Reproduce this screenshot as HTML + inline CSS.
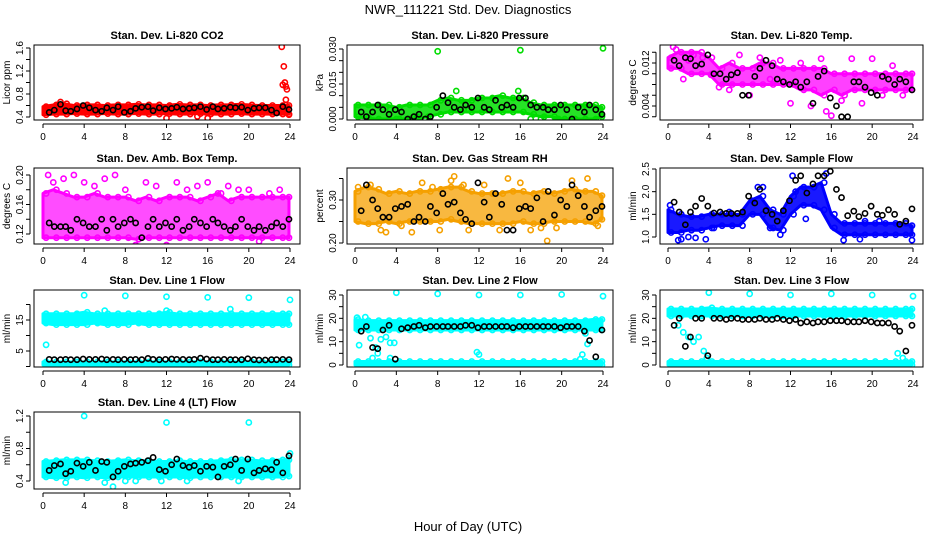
<!DOCTYPE html>
<html><head><meta charset="utf-8"><style>
body{margin:0;background:#fff;width:936px;height:540px;overflow:hidden}
svg{display:block;font-family:"Liberation Sans",sans-serif}
</style></head><body>
<svg id="chart" width="936" height="540">
<text x="468" y="14" text-anchor="middle" font-size="13">NWR_111221  Std. Dev. Diagnostics</text>
<text x="468" y="531" text-anchor="middle" font-size="13">Hour of Day (UTC)</text>
</svg>
<script>
// ---- data ----
const xTicks = [0,4,8,12,16,20,24];
const bandHours = [0,1,2,3,4,5,6,7,8,9,10,11,12,13,14,15,16,17,18,19,20,21,22,23,24];
const blackX = [0.6,1.1,1.7,2.2,2.7,3.3,3.9,4.5,5.1,5.7,6.2,6.8,7.3,7.9,8.5,9.0,9.6,10.2,10.7,11.3,11.9,12.5,13.0,13.6,14.2,14.7,15.3,15.9,16.5,17.0,17.6,18.2,18.7,19.3,19.9,20.5,21.0,21.6,22.2,22.7,23.3,23.9];

const co2Lo = [0.44,0.45,0.45,0.46,0.45,0.45,0.46,0.45,0.45,0.46,0.45,0.45,0.46,0.45,0.45,0.46,0.45,0.45,0.45,0.46,0.45,0.45,0.45,0.45,0.45];
const co2Hi = [0.58,0.61,0.63,0.60,0.61,0.61,0.60,0.61,0.61,0.62,0.61,0.61,0.60,0.62,0.61,0.61,0.60,0.61,0.61,0.62,0.61,0.60,0.60,0.60,0.60];
const co2OutX = [1.7,12,15,16,23.2,23.4,23.5,23.3,23.6,23.7,23.6,23.9];
const co2OutY = [0.66,0.38,0.41,0.38,1.62,1.28,1.0,0.96,0.93,0.88,0.70,0.44];
const co2Black = [0.48,0.52,0.62,0.51,0.50,0.54,0.60,0.56,0.52,0.50,0.56,0.52,0.58,0.48,0.50,0.55,0.57,0.58,0.51,0.56,0.54,0.55,0.57,0.54,0.55,0.56,0.58,0.53,0.58,0.54,0.55,0.57,0.56,0.57,0.52,0.55,0.56,0.56,0.52,0.47,0.58,0.53];

const presLo = [0.001,0.0005,0,0,0,0,0,0.001,0.002,0.003,0.003,0.003,0.003,0.003,0.003,0.003,0.003,0.002,0.001,0.001,0,0,0,0,0.001];
const presHi = [0.006,0.006,0.006,0.006,0.005,0.006,0.006,0.006,0.008,0.009,0.008,0.008,0.009,0.009,0.010,0.009,0.009,0.007,0.006,0.006,0.006,0.006,0.006,0.006,0.005];
const presOutX = [8,16,24,9.8,15.8,4,6,3.4,7.1,11,13,17,18,19.7];
const presOutY = [0.029,0.0295,0.0303,0.012,0.012,0,0.001,0.004,0.001,0.004,0.004,0,0,0];
const presBlack = [0.003,0.001,0.003,0.006,0.004,0.002,0.004,0.003,0,0.001,0.002,0,0.001,0.005,0.010,0.007,0.005,0.004,0.006,0.005,0.009,0.005,0.004,0.008,0.005,0.006,0.005,0.009,0.009,0.006,0.005,0.005,0.004,0.004,0.006,0.004,0,0.005,0.003,0.006,0.004,0.002];

const tempLo = [0.011,0.011,0.010,0.010,0.010,0.008,0.008,0.008,0.008,0.008,0.008,0.008,0.008,0.007,0.007,0.006,0.007,0.006,0.007,0.007,0.007,0.007,0.007,0.007,0.007];
const tempHi = [0.013,0.014,0.014,0.014,0.013,0.011,0.012,0.011,0.011,0.012,0.012,0.011,0.011,0.011,0.011,0.011,0.010,0.010,0.010,0.010,0.010,0.010,0.010,0.010,0.010];
const tempOutX = [0.5,0.8,1.5,2,2.5,3.4,4.2,5,6,7,8,9,10,11,12,13,14,15,15.5,16,17,18,19,20,21,22,23];
const tempOutY = [0.015,0.0145,0.009,0.0125,0.0135,0.013,0.0098,0.0075,0.007,0.0135,0.006,0.013,0.009,0.0125,0.0045,0.012,0.004,0.0128,0.003,0.0022,0.005,0.0128,0.0045,0.0128,0.006,0.0115,0.006];
const tempBlack = [0.0125,0.0115,0.013,0.0128,0.0115,0.0118,0.0135,0.0100,0.0100,0.0090,0.0098,0.0102,0.0060,0.0060,0.0095,0.0110,0.0125,0.0115,0.0090,0.0085,0.0080,0.0085,0.0075,0.0085,0.0045,0.0095,0.0105,0.0055,0.0040,0.0020,0.0020,0.0085,0.0085,0.0075,0.0065,0.0060,0.0095,0.0090,0.0080,0.0090,0.0085,0.0070];

const ambLo = [0.115,0.115,0.115,0.115,0.115,0.115,0.115,0.115,0.115,0.113,0.115,0.115,0.115,0.115,0.115,0.115,0.115,0.115,0.115,0.115,0.115,0.115,0.115,0.115,0.115];
const ambHi = [0.175,0.18,0.175,0.17,0.17,0.175,0.17,0.17,0.17,0.165,0.17,0.165,0.17,0.17,0.17,0.165,0.17,0.175,0.165,0.17,0.17,0.17,0.17,0.17,0.17];
const ambOutX = [0.5,1,2,3,4,5,6,7,8,9,10,11,12,13,14,15,16,17,18,19,20,21,22,23];
const ambOutY = [0.2,0.19,0.195,0.2,0.19,0.185,0.195,0.2,0.18,0.105,0.19,0.185,0.105,0.19,0.18,0.185,0.19,0.175,0.185,0.18,0.18,0.11,0.175,0.18];
const ambBlack = [0.135,0.13,0.13,0.13,0.125,0.14,0.135,0.13,0.13,0.14,0.125,0.14,0.13,0.135,0.14,0.135,0.115,0.13,0.14,0.13,0.135,0.13,0.14,0.125,0.13,0.14,0.135,0.13,0.14,0.135,0.13,0.125,0.13,0.14,0.13,0.125,0.13,0.125,0.13,0.135,0.13,0.14];

const rhLo = [0.25,0.245,0.245,0.25,0.245,0.25,0.25,0.25,0.25,0.255,0.25,0.245,0.245,0.245,0.245,0.245,0.25,0.245,0.245,0.25,0.25,0.25,0.25,0.245,0.255];
const rhHi = [0.32,0.33,0.325,0.315,0.32,0.315,0.32,0.32,0.325,0.33,0.33,0.32,0.315,0.315,0.315,0.32,0.32,0.315,0.32,0.315,0.32,0.325,0.32,0.32,0.31];
const rhOutX = [0.3,1.5,2.5,3,4.5,5.5,6.5,7.5,8.2,9.3,9.6,10.5,11,12.5,14,14.8,16,17,18,18.6,19.5,21,22.5,23.5];
const rhOutY = [0.33,0.335,0.23,0.225,0.24,0.225,0.34,0.33,0.23,0.345,0.355,0.335,0.23,0.335,0.23,0.35,0.34,0.23,0.235,0.205,0.235,0.345,0.35,0.24];
const rhBlack = [0.275,0.335,0.30,0.28,0.26,0.26,0.28,0.285,0.29,0.25,0.26,0.25,0.285,0.27,0.315,0.29,0.295,0.27,0.255,0.245,0.34,0.295,0.26,0.315,0.29,0.23,0.23,0.28,0.285,0.28,0.305,0.25,0.32,0.265,0.30,0.285,0.335,0.31,0.285,0.26,0.275,0.285];

const flowLo = [1.1,1.1,1.15,1.15,1.2,1.25,1.25,1.25,1.5,1.5,1.2,1.15,1.5,1.7,1.7,1.6,1.2,1.05,1.05,1.05,1.05,1.05,1.05,1.05,1.05];
const flowHi = [1.6,1.5,1.45,1.45,1.5,1.5,1.5,1.5,1.8,1.9,1.6,1.5,1.9,2.1,2.1,2.2,1.5,1.3,1.3,1.3,1.3,1.3,1.3,1.3,1.25];
const flowOutX = [0.2,1,1.3,2,2.7,3.7,4.5,6,8.8,9.3,10,11,12.2,12.5,13.5,14.3,15.5,17.2,18.8,19.3,20.7,23.9];
const flowOutY = [1.7,0.93,0.95,1.0,0.98,0.95,1.2,1.55,2.1,2.1,1.2,1.05,2.35,2.0,1.4,2.1,2.4,0.93,0.95,1.35,1.35,0.93];
const flowBlack = [1.77,1.55,1.27,1.55,1.68,1.85,1.68,1.53,1.55,1.52,1.52,1.52,1.55,1.9,1.75,2.05,1.58,1.5,1.35,1.58,1.8,2.25,2.35,1.97,2.17,2.35,2.35,2.45,2.05,1.87,1.47,1.57,1.45,1.52,1.68,1.5,1.48,1.6,1.5,1.28,1.35,1.62];

const l1Lo = [14,13.5,13.5,13.5,13.5,14,13.5,13.5,13.5,14,13.5,13.5,13.5,13.5,13.5,13.5,13.5,13.5,13.5,13.5,13.5,13.5,13.5,13.5,13.5];
const l1Hi = [17,17,17,17,17.5,17,17,17,17,17,17,17,17.5,17,17,17,17,17,17,17,17,17,17,17,17];
const l1BaseLo = [0.5,0.5,0.5,0.5,0.5,0.5,0.5,0.5,0.5,0.5,0.5,0.5,0.5,0.5,0.5,0.5,0.5,0.5,0.5,0.5,0.5,0.5,0.5,0.5,0.5];
const l1BaseHi = [1.5,1.5,1.5,1.5,1.5,1.5,1.5,1.5,1.5,1.5,1.5,1.5,1.5,1.5,1.5,1.5,1.5,1.5,1.5,1.5,1.5,1.5,1.5,1.5,1.5];
const l1OutX = [0.3,0.2,4,8,12,16,20,24,6,12,18.2];
const l1OutY = [7,1,23,22.8,22.5,22.3,22.2,21.5,18,18,18.5];
const l1Black = [2.3,2.2,2.2,2.3,2.2,2.2,2.4,2.3,2.3,2.4,2.2,2.3,2.2,2.3,2.2,2.3,2.2,2.6,2.3,2.2,2.3,2.4,2.3,2.3,2.2,2.3,2.7,2.4,2.2,2.2,2.3,2.2,2.2,2.2,2.5,2.2,2.1,2.1,2.2,2.2,2.3,2.2];

const l2Lo = [15,15,15,15,15,15,15,15,15,15,15,15,15,15,15,15,15,15,15,15,15,15,15,15,15];
const l2Hi = [19.5,19,19,19,19,19,19,19,19,19,19,19,19,19,19,19,19,19,19,19,19,19,19,19.5,19.5];
const baseLo = [0,0,0,0,0,0,0,0,0,0,0,0,0,0,0,0,0,0,0,0,0,0,0,0,0];
const baseHi = [1.5,1.5,1.5,1.5,1.5,1.5,1.5,1.5,1.5,1.5,1.5,1.5,1.5,1.5,1.5,1.5,1.5,1.5,1.5,1.5,1.5,1.5,1.5,1.5,1.5];
const l2OutX = [0.2,0.4,1,1.5,1.7,2,2.2,2.5,3,3.4,3.8,3.4,4,8,12,16,20,24,11.8,12,21.8,22,22.3,22.5,23.3];
const l2OutY = [20.3,8.5,20.5,11.5,3,7.5,5,11,12,9.5,9.5,3,31,30.5,30,30,30.2,29.5,5.5,4.5,2.5,4.5,13.5,9,17];
const l2Black = [14.5,16.5,7.5,7,15,17,2.5,15.5,16,16.5,17,16,16.5,16.5,16.5,16.5,16.5,16.5,17,17,16,16.5,16.5,16.5,16.5,16.5,16,16.5,16.5,16.5,16.5,16.5,16.5,16.5,16,16.5,16.5,16.5,14.5,10.5,3.5,15];

const l3Lo = [21,21,21,21,21,21,21,21,21,21,21,21,21,21,21,21,21,21,21,21,21,21,21,21,21];
const l3Hi = [24,24,24,24,24.5,24,24,24,24,24,24,24,24,24,24,24,24,24,24,24,24,24,24,24,24];
const l3OutX = [1,1.5,2,2.5,3,3.5,3.8,4,8,12,16,20,24,22.5,23];
const l3OutY = [17,14,12,10,12,6,3,31,30.5,30,30.5,30,29.5,5,3];
const l3Black = [17,20,8,12,20,20,4,20,20,19.5,20,20,19.5,19.5,19.5,20,19.5,19.5,20,19.5,19,19.5,18,18.5,18,18.5,18.5,19,19,19,18.5,18.5,18.5,19,18.5,18,18,18,16.5,14.5,6,17];

const l4Lo = [0.45,0.44,0.44,0.45,0.44,0.45,0.44,0.45,0.45,0.45,0.45,0.45,0.45,0.45,0.44,0.45,0.45,0.45,0.45,0.45,0.45,0.45,0.45,0.45,0.46];
const l4Hi = [0.64,0.65,0.66,0.66,0.66,0.65,0.64,0.65,0.66,0.65,0.65,0.64,0.64,0.65,0.64,0.64,0.64,0.65,0.66,0.66,0.66,0.65,0.65,0.66,0.66];
const l4OutX = [4,12,20,6.8,2.2,6,8,9,11.5,14,19,24];
const l4OutY = [1.2,1.12,1.12,0.33,0.38,0.38,0.40,0.40,0.40,0.40,0.40,0.74];
const l4Black = [0.53,0.59,0.61,0.49,0.52,0.62,0.58,0.63,0.53,0.64,0.63,0.45,0.52,0.58,0.61,0.62,0.63,0.65,0.69,0.54,0.52,0.60,0.67,0.59,0.57,0.59,0.52,0.58,0.57,0.45,0.58,0.60,0.67,0.53,0.67,0.50,0.53,0.55,0.54,0.63,0.50,0.71];

// ---- layout ----
const NS = 'http://www.w3.org/2000/svg';
const svg = document.getElementById('chart');
const cols = [{l:34,r:300,x0:43,x24:290},{l:347,r:613,x0:355,x24:603},{l:660,r:923,x0:668,x24:913}];
const rows = [{t:45,b:120},{t:168,b:244},{t:290,b:367},{t:412,b:489}];

const panels = [
 {name:'co2',title:'Stan. Dev. Li-820 CO2',ylab:'Licor ppm',c:0,r:0,ref:[0.4,117,1.6,48],ticks:[0.4,0.6,0.8,1.0,1.2,1.4,1.6],labels:['0.4','0.8','1.2','1.6'],lv:[0.4,0.8,1.2,1.6],color:'#ff0000',op:1,bands:[[co2Lo,co2Hi]],ox:co2OutX,oy:co2OutY,black:co2Black},
 {name:'pressure',title:'Stan. Dev. Li-820 Pressure',ylab:'kPa',c:1,r:0,ref:[0,119,0.03,49],ticks:[0,0.005,0.01,0.015,0.02,0.025,0.03],labels:['0.000','0.015','0.030'],lv:[0,0.015,0.03],color:'#00dd00',op:0.85,bands:[[presLo,presHi]],ox:presOutX,oy:presOutY,black:presBlack},
 {name:'temp',title:'Stan. Dev. Li-820 Temp.',ylab:'degrees C',c:2,r:0,ref:[0.004,106,0.012,63],ticks:[0.002,0.004,0.006,0.008,0.010,0.012,0.014],labels:['0.004','0.012'],lv:[0.004,0.012],color:'#ff00ff',op:0.75,bands:[[tempLo,tempHi]],ox:tempOutX,oy:tempOutY,black:tempBlack},
 {name:'amb-box',title:'Stan. Dev. Amb. Box Temp.',ylab:'degrees C',c:0,r:1,ref:[0.12,234,0.20,175],ticks:[0.12,0.14,0.16,0.18,0.20],labels:['0.12','0.16','0.20'],lv:[0.12,0.16,0.20],color:'#ff00ff',op:0.7,bands:[[ambLo,ambHi]],ox:ambOutX,oy:ambOutY,black:ambBlack},
 {name:'rh',title:'Stan. Dev. Gas Stream RH',ylab:'percent',c:1,r:1,ref:[0.2,243,0.3,200],ticks:[0.2,0.25,0.3,0.35],labels:['0.20','0.30'],lv:[0.2,0.3],color:'#f5a000',op:0.75,bands:[[rhLo,rhHi]],ox:rhOutX,oy:rhOutY,black:rhBlack},
 {name:'sample-flow',title:'Stan. Dev. Sample Flow',ylab:'ml/min',c:2,r:1,ref:[1.0,237,2.5,169],ticks:[1.0,1.5,2.0,2.5],labels:['1.0','1.5','2.0','2.5'],lv:[1.0,1.5,2.0,2.5],color:'#0000ff',op:0.9,bands:[[flowLo,flowHi]],ox:flowOutX,oy:flowOutY,black:flowBlack},
 {name:'line1',title:'Stan. Dev. Line 1 Flow',ylab:'ml/min',c:0,r:2,ref:[5,351,15,320],ticks:[0,5,10,15,20],labels:['5','15'],lv:[5,15],color:'#00ffff',op:1,bands:[[l1Lo,l1Hi],[l1BaseLo,l1BaseHi]],ox:l1OutX,oy:l1OutY,black:l1Black},
 {name:'line2',title:'Stan. Dev. Line 2 Flow',ylab:'ml/min',c:1,r:2,ref:[0,365,30,295],ticks:[0,5,10,15,20,25,30],labels:['0','10','20','30'],lv:[0,10,20,30],color:'#00ffff',op:1,bands:[[l2Lo,l2Hi],[baseLo,baseHi]],ox:l2OutX,oy:l2OutY,black:l2Black},
 {name:'line3',title:'Stan. Dev. Line 3 Flow',ylab:'ml/min',c:2,r:2,ref:[0,365,30,295],ticks:[0,5,10,15,20,25,30],labels:['0','10','20','30'],lv:[0,10,20,30],color:'#00ffff',op:1,bands:[[l3Lo,l3Hi],[baseLo,baseHi]],ox:l3OutX,oy:l3OutY,black:l3Black},
 {name:'line4',title:'Stan. Dev. Line 4 (LT) Flow',ylab:'ml/min',c:0,r:3,ref:[0.4,481,1.2,416],ticks:[0.4,0.6,0.8,1.0,1.2],labels:['0.4','0.8','1.2'],lv:[0.4,0.8,1.2],color:'#00ffff',op:1,bands:[[l4Lo,l4Hi]],ox:l4OutX,oy:l4OutY,black:l4Black}
];

function mk(tag, attrs, parent){
  const e = document.createElementNS(NS, tag);
  for (const k in attrs) e.setAttribute(k, attrs[k]);
  (parent||svg).appendChild(e);
  return e;
}

panels.forEach(p=>{
  const col = cols[p.c], row = rows[p.r];
  const xs = h => col.x0 + (col.x24-col.x0)*h/24;
  const [v1,py1,v2,py2] = p.ref;
  const ys = v => py1 + (v-v1)*(py2-py1)/(v2-v1);
  const g = mk('g',{});
  
  
  const clip = mk('clipPath',{id:'clip-'+p.name},g);
  mk('rect',{x:col.l,y:row.t,width:col.r-col.l,height:row.b-row.t},clip);
  const plot = mk('g',{'clip-path':'url(#clip-'+p.name+')'},g);
  p.bands.forEach(b=>{
    const lo=b[0], hi=b[1];
    let pts=[];
    bandHours.forEach((h,i)=>pts.push(xs(Math.min(h,23.9))+','+ys(hi[i])));
    for(let i=bandHours.length-1;i>=0;i--) pts.push(xs(Math.min(bandHours[i],23.9))+','+ys(lo[i]));
    const poly = mk('polygon',{points:pts.join(' '),fill:p.color,'fill-opacity':p.op,stroke:p.color,'stroke-width':3,'stroke-linejoin':'round'},plot);
    
    
    bandHours.forEach((h,i)=>{
      [lo[i],hi[i]].forEach(v=>{
        const c = mk('circle',{cx:xs(Math.min(h+0.3,23.9)),cy:ys(v),r:2.6,fill:'none',stroke:p.color,'stroke-width':1.6},plot);
        
        
      });
    });
  });
  p.ox.forEach((h,i)=>{
    const c = mk('circle',{cx:xs(h),cy:ys(p.oy[i]),r:2.6,fill:'none',stroke:p.color,'stroke-width':1.6},plot);
    
    
  });
  blackX.forEach((h,i)=>{
    const c = mk('circle',{cx:xs(h),cy:ys(p.black[i]),r:2.6,fill:'none',stroke:'#000','stroke-width':1.6},plot);
    
    
  });
  const box = mk('rect',{x:col.l,y:row.t,width:col.r-col.l,height:row.b-row.t,fill:'none',stroke:'#000','stroke-width':1},g);
  
  
  const t = mk('text',{x:(col.l+col.r)/2,y:row.t-6,'text-anchor':'middle','font-size':11,'font-weight':'bold'},g);
  t.textContent = p.title;
  
  
  mk('line',{x1:xs(0),x2:xs(24),y1:row.b+4,y2:row.b+4,stroke:'#000'},g);
  xTicks.forEach(h=>{
    mk('line',{x1:xs(h),x2:xs(h),y1:row.b+4,y2:row.b+8,stroke:'#000'},g);
    const tl = mk('text',{x:xs(h),y:row.b+20,'text-anchor':'middle','font-size':10},g);
    tl.textContent = h;
    
    
  });
  const ax = col.l-4;
  mk('line',{x1:ax,x2:ax,y1:ys(p.ticks[0]),y2:ys(p.ticks[p.ticks.length-1]),stroke:'#000'},g);
  p.ticks.forEach(v=>mk('line',{x1:ax-4,x2:ax,y1:ys(v),y2:ys(v),stroke:'#000'},g));
  p.lv.forEach((v,i)=>{
    const yl = mk('text',{x:0,y:0,'text-anchor':'middle','font-size':10,transform:'translate('+(ax-7)+','+ys(v)+') rotate(-90)'},g);
    yl.textContent = p.labels[i];
    
    
  });
  const yt = mk('text',{x:0,y:0,'text-anchor':'middle','font-size':10,transform:'translate('+(col.l-24)+','+((row.t+row.b)/2)+') rotate(-90)'},g);
  yt.textContent = p.ylab;
  
  
});
</script>
</body></html>
